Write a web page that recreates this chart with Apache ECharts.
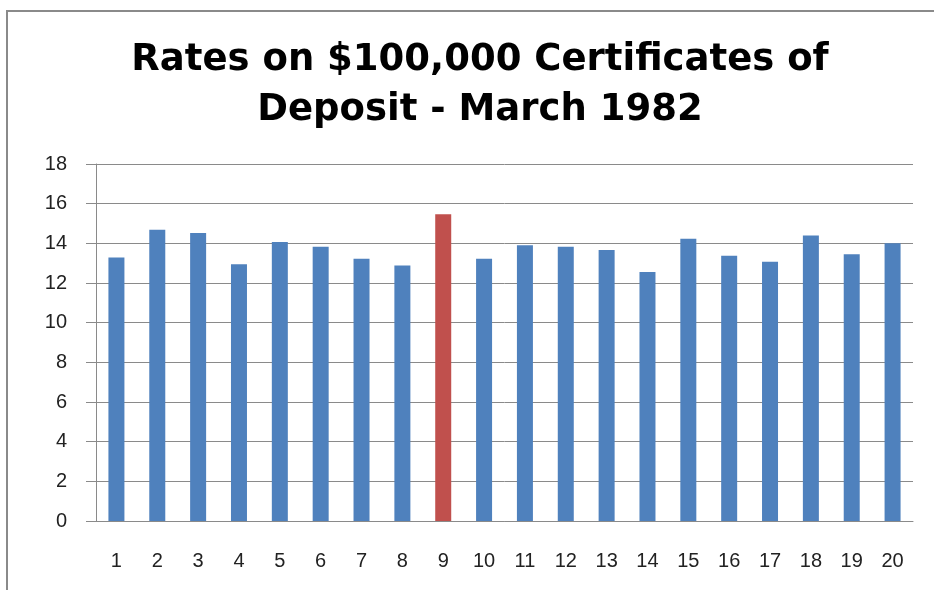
<!DOCTYPE html>
<html>
<head>
<meta charset="utf-8">
<script src="https://cdn.jsdelivr.net/npm/echarts@6/dist/echarts.min.js"></script>
<style>
  html, body { margin: 0; padding: 0; background: #fff; overflow: hidden; }
  .frame {
    position: absolute; left: 6px; top: 10px; width: 1000px; height: 700px;
    border-left: 2px solid #8a8a8a; border-top: 2px solid #8a8a8a;
  }
  #chart { position: absolute; left: 0; top: 0; width: 934px; height: 590px; }
</style>
</head>
<body>
<div class="frame"></div>
<div id="chart"></div>
<script>
// bank number 1..20
const banks = ['1', '2', '3', '4', '5', '6', '7', '8', '9', '10',
  '11', '12', '13', '14', '15', '16', '17', '18', '19', '20']

// rate (%)
const rates = [13.28, 14.68, 14.52, 12.95, 14.07, 13.83, 13.22, 12.88, 15.47, 13.22,
  13.9, 13.83, 13.67, 12.55, 14.23, 13.38, 13.07, 14.4, 13.45, 14.0]

// the one bank drawn in red
const highlighted = ['9']

const yTicks = { min: 0, max: 18, interval: 2 }

const BLUE = '#4f81bd'
const RED = '#c0504d'
const LABEL_FONT = '"Liberation Sans Narrow", "Liberation Sans", sans-serif'

const chart = echarts.init(document.getElementById('chart'))

chart.setOption({
  animation: false,
  title: {
    text: 'Rates on $100,000 Certificates of\nDeposit - March 1982',
    left: 475,
    top: 30,
    textAlign: 'center',
    textStyle: {
      fontFamily: 'DejaVu Sans',
      fontWeight: 'bold',
      fontSize: 37,
      lineHeight: 50,
      color: '#000'
    }
  },
  grid: { left: 96, right: 21, top: 164, bottom: 69 },
  xAxis: {
    type: 'category',
    data: banks,
    axisLine: { lineStyle: { color: '#8a8a8a', width: 1 } },
    axisTick: { alignWithLabel: false, length: 7, lineStyle: { color: '#8a8a8a' } },
    axisLabel: {
      margin: 30,
      fontFamily: LABEL_FONT,
      fontSize: 20,
      color: '#222',
      interval: 0
    }
  },
  yAxis: {
    type: 'value',
    min: yTicks.min,
    max: yTicks.max,
    interval: yTicks.interval,
    axisLine: { show: true, lineStyle: { color: '#8a8a8a', width: 1 } },
    axisTick: { show: true, length: 10, lineStyle: { color: '#8a8a8a' } },
    axisLabel: {
      margin: 29,
      fontFamily: LABEL_FONT,
      fontSize: 20,
      color: '#222'
    },
    splitLine: { lineStyle: { color: '#8a8a8a', width: 1 } }
  },
  series: [{
    type: 'bar',
    barWidth: 16,
    data: rates.map((v, i) => ({
      value: v,
      itemStyle: { color: highlighted.includes(banks[i]) ? RED : BLUE }
    }))
  }]
})
</script>
</body>
</html>
